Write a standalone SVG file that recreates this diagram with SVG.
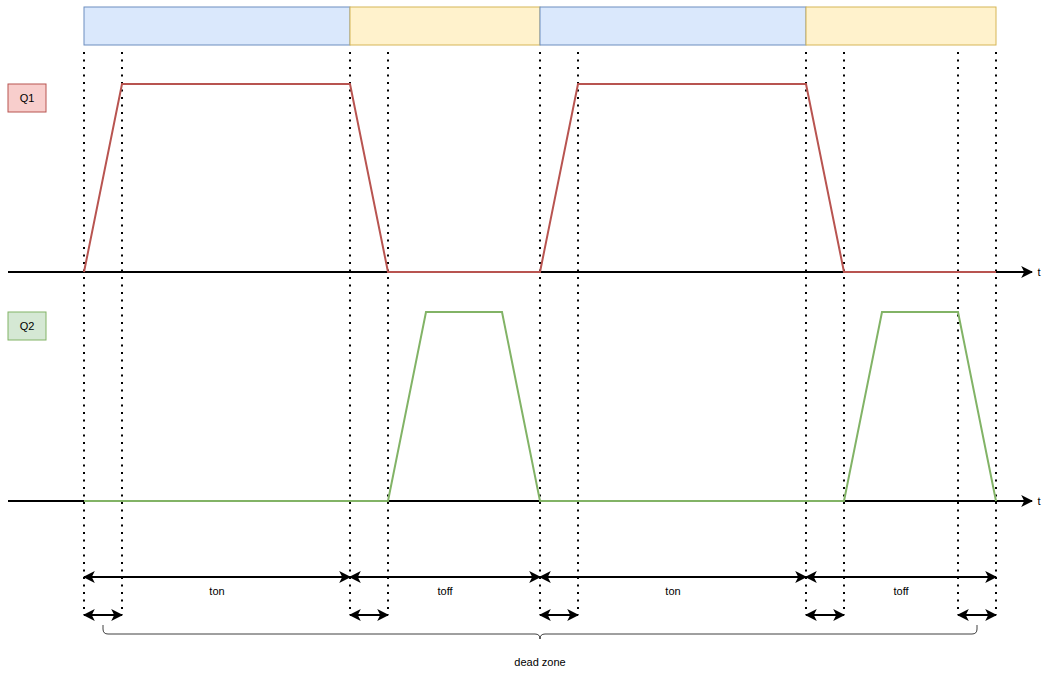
<svg xmlns="http://www.w3.org/2000/svg" width="1047" height="673" viewBox="0 0 1047 673">
<style>
.blue{fill:#dae8fc;stroke:#6c8ebf;stroke-width:1}
.yel{fill:#fff2cc;stroke:#d6b656;stroke-width:1}
.dot{stroke:#000;stroke-width:2;stroke-dasharray:2 5.5;fill:none}
.axis{stroke:#000;stroke-width:2;fill:none}
.red{stroke:#b85450;stroke-width:2;fill:none}
.grn{stroke:#82b366;stroke-width:2;fill:none}
.dim{stroke:#000;stroke-width:2;fill:none}
.t{font-family:"Liberation Sans",Arial,sans-serif;font-size:11px;fill:#000;text-anchor:middle}
</style>
<defs>
<marker id="ah" viewBox="0 0 10 10" refX="9" refY="5" markerWidth="6" markerHeight="6" markerUnits="strokeWidth" orient="auto-start-reverse">
<path d="M0,0 L10,5 L0,10 L2.5,5 Z" fill="#000"/>
</marker>
</defs>
<g id="phases">
<rect class="blue" x="84" y="7" width="266" height="38"/>
<rect class="yel" x="350" y="7" width="190" height="38"/>
<rect class="blue" x="540" y="7" width="266" height="38"/>
<rect class="yel" x="806" y="7" width="190" height="38"/>
</g>
<g id="q1label">
<rect x="8" y="84" width="38" height="28" fill="#f8cecc" stroke="#b85450"/>
<text class="t" x="27" y="102">Q1</text>
</g>
<g id="q2label">
<rect x="8" y="312" width="38" height="28" fill="#d5e8d4" stroke="#82b366"/>
<text class="t" x="27" y="330">Q2</text>
</g>
<g id="connectors">
<g id="guides">
<line class="dot" x1="84" y1="52" x2="84" y2="615"/>
<line class="dot" x1="122" y1="52" x2="122" y2="615"/>
<line class="dot" x1="350" y1="52" x2="350" y2="615"/>
<line class="dot" x1="388" y1="52" x2="388" y2="615"/>
<line class="dot" x1="540" y1="52" x2="540" y2="615"/>
<line class="dot" x1="578" y1="52" x2="578" y2="615"/>
<line class="dot" x1="806" y1="52" x2="806" y2="615"/>
<line class="dot" x1="844" y1="52" x2="844" y2="615"/>
<line class="dot" x1="958" y1="52" x2="958" y2="615"/>
<line class="dot" x1="996" y1="52" x2="996" y2="615"/>
</g>
<line class="axis" x1="8" y1="272" x2="1032" y2="272" marker-end="url(#ah)"/>
<line class="axis" x1="8" y1="501" x2="1032" y2="501" marker-end="url(#ah)"/>
<polyline class="red" points="84,272 122,84 350,84 388,272 540,272 578,84 806,84 844,272 996,272"/>
<polyline class="grn" points="84,501 388,501 426,312 502,312 540,501 844,501 882,312 958,312 996,501"/>
<line class="dim" x1="84" y1="577" x2="350" y2="577" marker-start="url(#ah)" marker-end="url(#ah)"/>
<line class="dim" x1="350" y1="577" x2="540" y2="577" marker-start="url(#ah)" marker-end="url(#ah)"/>
<line class="dim" x1="540" y1="577" x2="806" y2="577" marker-start="url(#ah)" marker-end="url(#ah)"/>
<line class="dim" x1="806" y1="577" x2="996" y2="577" marker-start="url(#ah)" marker-end="url(#ah)"/>
<line class="dim" x1="84" y1="615" x2="122" y2="615" marker-start="url(#ah)" marker-end="url(#ah)"/>
<line class="dim" x1="350" y1="615" x2="388" y2="615" marker-start="url(#ah)" marker-end="url(#ah)"/>
<line class="dim" x1="540" y1="615" x2="578" y2="615" marker-start="url(#ah)" marker-end="url(#ah)"/>
<line class="dim" x1="806" y1="615" x2="844" y2="615" marker-start="url(#ah)" marker-end="url(#ah)"/>
<line class="dim" x1="958" y1="615" x2="996" y2="615" marker-start="url(#ah)" marker-end="url(#ah)"/>
<path id="brace" d="M103,625 L103,629 Q103,634 108,634 L535,634 Q540,634 540,639 Q540,634 545,634 L972,634 Q977,634 977,629 L977,625" fill="none" stroke="#000" stroke-width="1" opacity="0.75"/>
</g>
<g id="labels">
<text class="t" x="1039" y="276">t</text>
<text class="t" x="1039" y="505">t</text>
<text class="t" x="217" y="595">ton</text>
<text class="t" x="445" y="595">toff</text>
<text class="t" x="673" y="595">ton</text>
<text class="t" x="901" y="595">toff</text>
<text class="t" x="540" y="666">dead zone</text>
</g>
</svg>
